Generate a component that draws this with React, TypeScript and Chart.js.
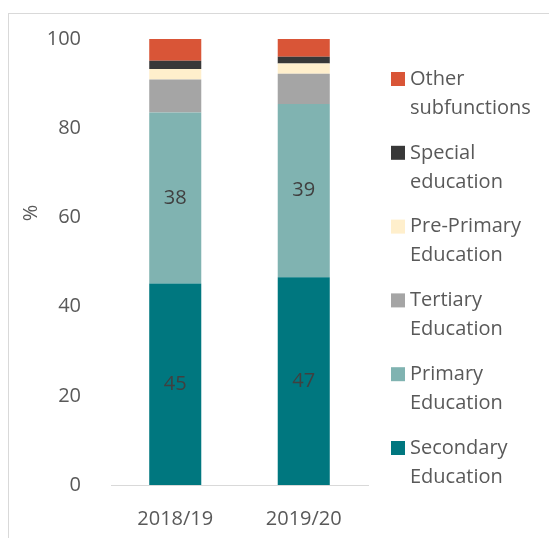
import React, { useEffect, useRef } from "react";
import { Chart, registerables } from "chart.js";

Chart.register(...registerables);

const categories = ["2018/19", "2019/20"];
const secondary = [45.2, 46.6];
const primary = [38.3, 38.8];
const tertiary = [7.4, 6.8];
const prePrimary = [2.4, 2.3];
const special = [1.8, 1.5];
const other = [4.9, 4.0];
const yTicks = [0, 20, 40, 60, 80, 100];

const FONT = "'Open Sans', 'Liberation Sans', sans-serif";
const TEXT = "#595959";

const legendPlugin = {
  id: "customLegendAndLabels",
  afterDatasetsDraw(chart: any) {
    const ctx = chart.ctx;
    ctx.save();
    chart.data.datasets.forEach((ds: any, i: number) => {
      if (!ds.showLabel) return;
      const meta = chart.getDatasetMeta(i);
      meta.data.forEach((el: any, j: number) => {
        const v = ds.data[j];
        const cy = (el.y + el.base) / 2;
        ctx.fillStyle = "#404040";
        ctx.font = `20px ${FONT}`;
        ctx.textAlign = "center";
        ctx.textBaseline = "middle";
        ctx.fillText(String(Math.round(v)), el.x, cy);
      });
    });
    ctx.restore();
  },
  afterDraw(chart: any) {
    const ctx = chart.ctx;
    ctx.save();
    ctx.translate(22.5, 199);
    ctx.rotate(-Math.PI / 2);
    ctx.fillStyle = TEXT;
    ctx.font = `20px ${FONT}`;
    ctx.textAlign = "center";
    ctx.textBaseline = "middle";
    ctx.fillText("%", 0, 0);
    ctx.restore();

    ctx.save();
    const ds = chart.data.datasets.slice().reverse();
    const startY = 65;
    const step = 73.8;
    ds.forEach((d: any, k: number) => {
      const cy = startY + k * step;
      ctx.fillStyle = d.backgroundColor;
      ctx.fillRect(382, cy - 7, 14, 14);
      const label: string = d.label;
      const idx = label.indexOf(" ");
      const lines = idx > 0 ? [label.slice(0, idx), label.slice(idx + 1)] : [label];
      ctx.fillStyle = TEXT;
      ctx.font = `20px ${FONT}`;
      ctx.textAlign = "left";
      ctx.textBaseline = "middle";
      lines.forEach((ln, li) => ctx.fillText(ln, 401, cy + li * 29));
    });
    ctx.restore();
  },
};

export default function App() {
  const ref = useRef<HTMLCanvasElement>(null);
  useEffect(() => {
    if (!ref.current) return;
    const mk = (label: string, data: number[], color: string, showLabel = false) => ({
      label,
      data,
      backgroundColor: color,
      borderWidth: 0,
      showLabel,
    });
    const chart = new Chart(ref.current, {
      type: "bar",
      data: {
        labels: categories,
        datasets: [
          mk("Secondary Education", secondary, "#00777F", true),
          mk("Primary Education", primary, "#80B3B1", true),
          mk("Tertiary Education", tertiary, "#A5A5A5"),
          mk("Pre-Primary Education", prePrimary, "#FFEFCC"),
          mk("Special education", special, "#383838"),
          mk("Other subfunctions", other, "#D95537"),
        ] as any,
      },
      options: {
        animation: false,
        responsive: false,
        devicePixelRatio: 1,
        datasets: { bar: { categoryPercentage: 1, barPercentage: 0.405 } },
        layout: { padding: { top: 25, left: 0, right: 189, bottom: 0 } },
        plugins: { legend: { display: false }, tooltip: { enabled: false } },
        scales: {
          x: {
            stacked: true,
            grid: { display: false },
            border: { display: true, color: "#D9D9D9", width: 1 },
            ticks: { color: TEXT, font: { family: FONT, size: 20 }, padding: 14 },
            afterFit: (s: any) => {
              s.height = 53;
            },
          },
          y: {
            stacked: true,
            min: yTicks[0],
            max: yTicks[yTicks.length - 1],
            grid: { display: false },
            border: { display: false },
            ticks: {
              stepSize: 20,
              color: TEXT,
              font: { family: FONT, size: 20 },
              padding: 22,
            },
            afterFit: (s: any) => {
              s.width = 102;
              s.paddingTop = 0;
              s.paddingBottom = 0;
            },
          },
        },
      },
      plugins: [legendPlugin],
    });
    return () => chart.destroy();
  }, []);
  return (
    <div style={{ paddingTop: 5 }}>
      <div
        style={{
          borderTop: "1px solid #D9D9D9",
          borderLeft: "1px solid #D9D9D9",
          width: 548,
          height: 524,
        }}
      >
        <canvas ref={ref} width={548} height={524} style={{ display: "block" }} />
      </div>
    </div>
  );
}
